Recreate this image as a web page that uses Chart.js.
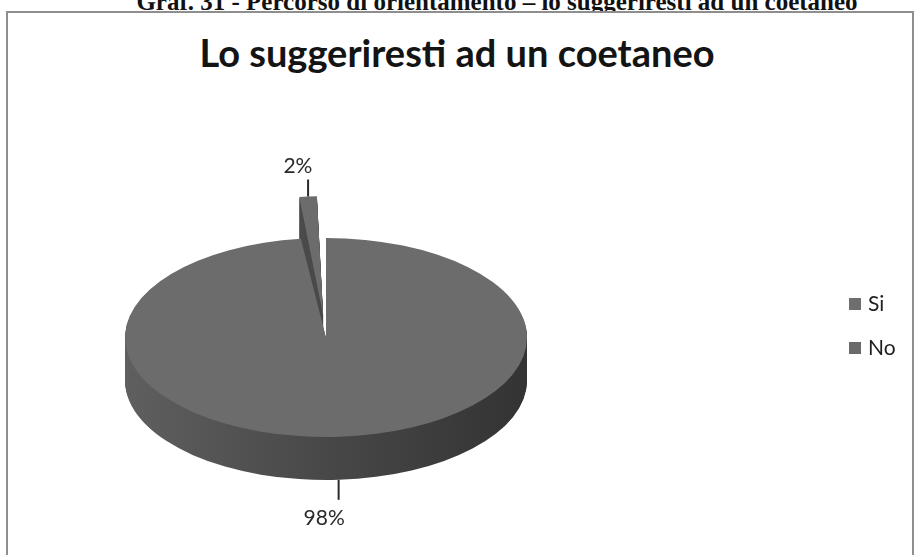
<!DOCTYPE html>
<html>
<head>
<meta charset="utf-8">
<script src="https://cdn.jsdelivr.net/npm/chart.js@4.4.1/dist/chart.umd.min.js"></script>
<style>
  html, body { margin: 0; padding: 0; background: #fff; }
  body { width: 914px; height: 555px; position: relative; overflow: hidden; }
  #caption {
    position: absolute; left: 40px; width: 914px; top: -11px;
    text-align: center; white-space: nowrap;
    font: bold 25px "Liberation Serif", "Times New Roman", serif;
    line-height: 25px; color: #111;
  }
  #frame {
    position: absolute; left: 6px; top: 11px; width: 904px; height: 600px;
    border: 2px solid #8e8e8e; background: #fff;
  }
  #title {
    position: absolute; left: 0; width: 914px; top: 30px;
    text-align: center; white-space: nowrap;
    font: bold 38px "Lato", "Noto Sans", sans-serif; line-height: 44px; color: #141414;
  }
  #legend { position: absolute; left: 849px; top: 291px; font: 21px "Lato", sans-serif; color: #1e1e1e; }
  #legend .item { height: 24px; line-height: 24px; margin-bottom: 20px; white-space: nowrap; }
  #legend .swatch { display: inline-block; width: 12px; height: 12px; margin-right: 7px; vertical-align: 1px; }
  #chart { position: absolute; left: 0; top: 0; }
</style>
</head>
<body>
<div id="caption">Graf. 31 - Percorso di orientamento – lo suggeriresti ad un coetaneo</div>
<div id="frame"></div>
<div id="title">Lo suggeriresti ad un coetaneo</div>
<canvas id="chart" width="914" height="555"></canvas>
<div id="legend"></div>
<script>
// answers to "Lo suggeriresti ad un coetaneo"
const categories = ['Si', 'No'];
const answers = [98, 2];
const explode = [0, 180];

const topColor = '#6c6c6c';
const legendColors = ['#6e6e6e', '#6a6a6a'];

// fake 3D look: squash the pie into an ellipse and extrude a wall under it
const TILT = 0.495;
const DEPTH = 43;

function squash(ctx, x, y) {
    ctx.translate(x, y);
    ctx.scale(1, TILT);
    ctx.translate(-x, -y);
}

// where the slice edge ends up once chart.js has pushed it out by its offset
function edgePoint(arc) {
    const mid = (arc.startAngle + arc.endAngle) / 2;
    const push = (arc.options.offset || 0) / 4;
    const circ = arc.endAngle - arc.startAngle;
    const reach = push + arc.outerRadius + push * (1 - Math.sin(Math.min(Math.PI, circ)));
    return {
        x: arc.x + Math.cos(mid) * reach,
        y: arc.y + Math.sin(mid) * reach * TILT,
        front: Math.sin(mid) > 0
    };
}

const pie3d = {
    id: 'pie3d',
    beforeDatasetsDraw(chart) {
        const ctx = chart.ctx;
        const arcs = chart.getDatasetMeta(0).data;
        const {x, y, outerRadius} = arcs[0];

        const wall = ctx.createLinearGradient(x - outerRadius, 0, x + outerRadius, 0);
        wall.addColorStop(0, '#5f5f5f');
        wall.addColorStop(0.45, '#4a4a4a');
        wall.addColorStop(1, '#333333');

        ctx.save();
        squash(ctx, x, y);
        for (let k = DEPTH; k > 0; k--) {
            arcs.forEach(arc => {
                const opts = arc.options;
                arc.options = Object.assign({}, opts, {backgroundColor: wall, borderWidth: 0});
                ctx.save();
                ctx.translate(0, k / TILT);
                arc.draw(ctx);
                ctx.restore();
                arc.options = opts;
            });
        }
        ctx.restore();
    },
    beforeDatasetDraw(chart) {
        const arc = chart.getDatasetMeta(0).data[0];
        chart.ctx.save();
        squash(chart.ctx, arc.x, arc.y);
    },
    afterDatasetDraw(chart) {
        chart.ctx.restore();
    },
    afterDatasetsDraw(chart) {
        // percentage labels with short leader lines
        const ctx = chart.ctx;
        const arcs = chart.getDatasetMeta(0).data;
        ctx.save();
        ctx.font = '21px Lato, sans-serif';
        ctx.fillStyle = '#2a2a2a';
        ctx.strokeStyle = '#2a2a2a';
        ctx.lineWidth = 2;
        ctx.textAlign = 'center';
        ctx.textBaseline = 'middle';
        arcs.forEach((arc, i) => {
            const p = edgePoint(arc);
            const text = answers[i] + '%';
            const w = ctx.measureText(text).width;
            const y0 = p.front ? p.y + DEPTH : p.y;
            const y1 = p.front ? y0 + 20 : y0 - 17;
            ctx.beginPath();
            ctx.moveTo(p.x, y0);
            ctx.lineTo(p.x, y1);
            ctx.stroke();
            ctx.fillText(text, p.x - w * 0.35, p.front ? y1 + 18 : y1 - 13);
        });
        ctx.restore();
    }
};

const ctx = document.getElementById('chart').getContext('2d');
new Chart(ctx, {
    type: 'pie',
    data: {
        labels: categories,
        datasets: [{
            data: answers,
            backgroundColor: topColor,
            borderWidth: 0,
            offset: explode,
            radius: 201,
            clip: false
        }]
    },
    options: {
        responsive: false,
        animation: false,
        events: [],
        layout: { padding: { left: 0, right: 262, top: 120, bottom: 0 } },
        plugins: {
            legend: { display: false },
            title: { display: false },
            tooltip: { enabled: false }
        }
    },
    plugins: [pie3d]
});

// legend on the right
const legend = document.getElementById('legend');
categories.forEach((name, i) => {
    const item = document.createElement('div');
    item.className = 'item';
    item.innerHTML = `<span class="swatch" style="background:${legendColors[i]}"></span>${name}`;
    legend.appendChild(item);
});
</script>
</body>
</html>
